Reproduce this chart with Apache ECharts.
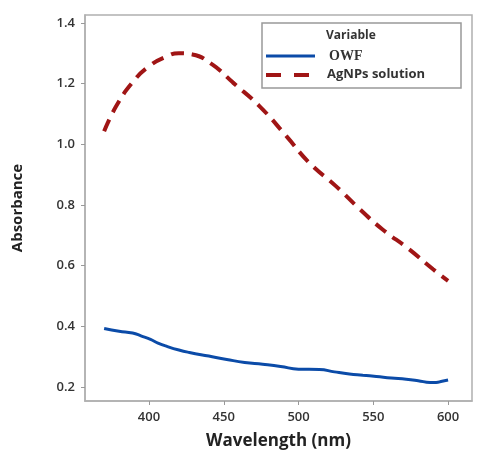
<!DOCTYPE html>
<html><head><meta charset="utf-8">
<script src="https://cdn.jsdelivr.net/npm/echarts@6/dist/echarts.min.js"></script>
<style>html,body{margin:0;padding:0;background:#fff}#c{width:479px;height:455px}</style>
</head><body><div id="c"></div>
<script>
const xTicks = [400, 450, 500, 550, 600];
const yTicks = [0.2, 0.4, 0.6, 0.8, 1.0, 1.2, 1.4];
const seriesNames = ['OWF', 'AgNPs solution'];
const legendTitle = 'Variable';
const owfWl = [370, 380, 389, 395, 401, 406, 412, 420, 427, 440, 452, 464, 476, 488, 500, 514, 524, 534, 543, 552, 562, 572, 580, 588, 592, 596, 600];
const owfAbs = [0.393, 0.384, 0.378, 0.368, 0.357, 0.345, 0.334, 0.322, 0.314, 0.302, 0.291, 0.281, 0.275, 0.268, 0.259, 0.258, 0.250, 0.243, 0.239, 0.235, 0.230, 0.226, 0.221, 0.215, 0.215, 0.219, 0.223];
const agWl = [370, 378, 389, 400, 412, 420, 429, 442, 456, 474, 492, 507, 525, 541, 556, 574, 590, 600];
const agAbs = [1.043, 1.125, 1.204, 1.257, 1.290, 1.300, 1.296, 1.264, 1.204, 1.125, 1.026, 0.940, 0.862, 0.786, 0.720, 0.654, 0.588, 0.550];

const chart = echarts.init(document.getElementById('c'));
const font = '"Open Sans", "DejaVu Sans", sans-serif';
const blue = '#0b4ba8', red = '#a01515';
chart.setOption({
  animation: false,
  grid: { left: 85, top: 15, right: 7, bottom: 53, show: true, borderColor: '#b0b0b0', borderWidth: 1.5 },
  xAxis: {
    type: 'value', min: 357.2, max: 616,
    name: 'Wavelength (nm)', nameLocation: 'middle', nameGap: 32,
    nameTextStyle: { fontFamily: font, fontSize: 17, fontWeight: 'bold', color: '#222' },
    axisLine: { show: true, lineStyle: { color: '#b0b0b0', width: 1.5 } },
    axisTick: { show: true, length: 4, customValues: xTicks, lineStyle: { color: '#999' } },
    axisLabel: { customValues: xTicks, fontFamily: font, fontSize: 13, fontWeight: 600, color: '#333', margin: 10 },
    splitLine: { show: false }
  },
  yAxis: {
    type: 'value', min: 0.154, max: 1.426,
    name: 'Absorbance', nameLocation: 'middle', nameGap: 60,
    nameTextStyle: { fontFamily: font, fontSize: 15, fontWeight: 'bold', color: '#222' },
    axisLine: { show: true, lineStyle: { color: '#b0b0b0', width: 1.5 } },
    axisTick: { show: true, length: 4, customValues: yTicks, lineStyle: { color: '#999' } },
    axisLabel: { customValues: yTicks, fontFamily: font, fontSize: 13, fontWeight: 600, color: '#333', margin: 10,
      formatter: v => v.toFixed(1) },
    splitLine: { show: false }
  },
  graphic: [
    { type: 'rect', shape: { x: 262, y: 23, width: 199, height: 65 }, style: { fill: '#fff', stroke: '#999', lineWidth: 1.5 }, z: 10 },
    { type: 'text', x: 326, y: 30, z: 11, style: { text: legendTitle, font: 'bold 12px ' + font, fill: '#333' } },
    { type: 'line', shape: { x1: 266, y1: 56, x2: 315, y2: 56 }, style: { stroke: blue, lineWidth: 3 }, z: 11 },
    { type: 'text', x: 329, y: 49, z: 11, style: { text: seriesNames[0], font: 'bold 14px "Liberation Serif", serif', fill: '#333' } },
    { type: 'line', shape: { x1: 266, y1: 75, x2: 315, y2: 75 }, style: { stroke: red, lineWidth: 4, lineDash: [15, 13] }, z: 11 },
    { type: 'text', x: 327, y: 68, z: 11, style: { text: seriesNames[1], font: 'bold 13px ' + font, fill: '#333' } }
  ],
  series: [
    { name: seriesNames[0], type: 'line', symbol: 'none', smooth: true,
      data: owfWl.map((w, i) => [w, owfAbs[i]]),
      lineStyle: { color: blue, width: 3 } },
    { name: seriesNames[1], type: 'line', symbol: 'none', smooth: true,
      data: agWl.map((w, i) => [w, agAbs[i]]),
      lineStyle: { color: red, width: 4, type: [13, 8] } }
  ]
});
</script></body></html>
